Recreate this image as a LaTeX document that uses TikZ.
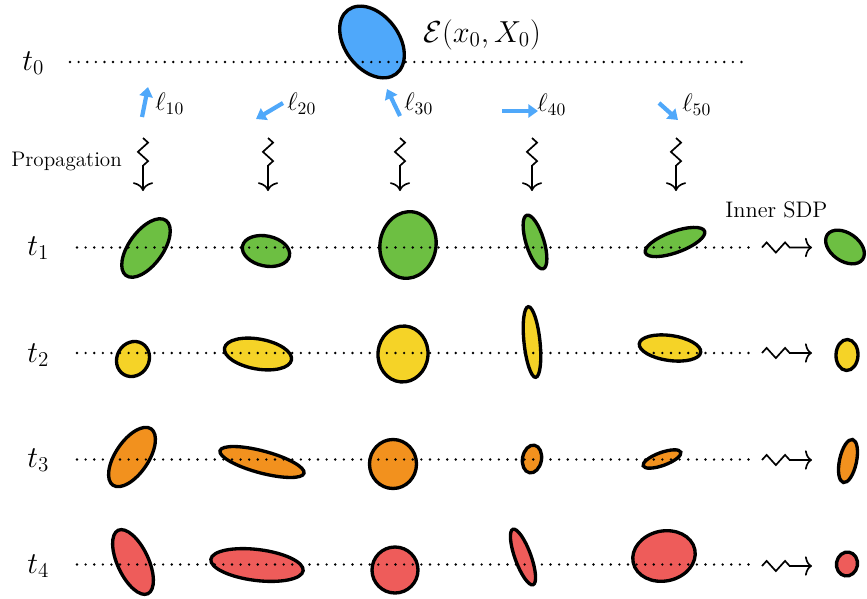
\documentclass[tikz,border=0pt]{standalone}
\usetikzlibrary{arrows.meta,decorations.pathmorphing}
\definecolor{cblue}{HTML}{4FA8FA}
\definecolor{cgreen}{HTML}{6DBF42}
\definecolor{cyellow}{HTML}{F5D327}
\definecolor{corange}{HTML}{F2911E}
\definecolor{cred}{HTML}{EE5C5A}
\newcommand\myellipse[6]{\draw[ellstyle,fill=#1,rotate around={#6:(#2,#3)}] (#2,#3) ellipse [x radius=#4, y radius=#5];}
\begin{document}
\begin{tikzpicture}[x=0.02cm,y=-0.02cm,
  ellstyle/.style={line width=1.9pt,draw=black},
  rowline/.style={line width=1.5pt,line cap=round,dash pattern=on 0pt off 4.9pt},
  larrow/.style={cblue,line width=2.4pt,-{Triangle[length=5.5pt,width=7.5pt]}},
  zzv/.style={line width=0.95pt,-{To[length=5pt,width=11.5pt]},decorate,
    decoration={zigzag,segment length=10.5pt,amplitude=2.9pt,post length=11pt}},
  zzh/.style={line width=0.95pt,-{To[length=4pt,width=11pt]},decorate,
    decoration={zigzag,segment length=10.5pt,amplitude=2.9pt,post length=11pt}},
  tlab/.style={anchor=base west,inner sep=0pt,font=\fontsize{17}{20}\selectfont},
  llab/.style={anchor=base west,inner sep=0pt,font=\fontsize{14}{17}\selectfont},
  txt/.style={anchor=base west,inner sep=0pt}]
\useasboundingbox (0,0) rectangle (867,599);

% t0 ellipse
\myellipse{cblue}{372}{42}{40}{27}{-53}
% row 1
\myellipse{cgreen}{146}{248}{34}{17}{54}
\myellipse{cgreen}{266}{251}{24}{15}{-12}
\myellipse{cgreen}{408}{245}{33.5}{28}{80}
\myellipse{cgreen}{535}{242}{28}{9}{-73}
\myellipse{cgreen}{675}{242}{31.5}{10.5}{20}
\myellipse{cgreen}{845}{247}{21.5}{14}{-35}
% row 2
\myellipse{cyellow}{133}{359}{18}{16}{60}
\myellipse{cyellow}{258}{354}{34}{15}{-10}
\myellipse{cyellow}{403}{354}{28}{25}{85}
\myellipse{cyellow}{532}{342}{35.5}{8}{-84}
\myellipse{cyellow}{670}{348}{31}{12.5}{-8}
\myellipse{cyellow}{847}{355}{15.5}{11}{88}
% row 3
\myellipse{corange}{132}{457}{34}{16.5}{56}
\myellipse{corange}{262}{462}{43.5}{11}{-15}
\myellipse{corange}{393}{464}{24.5}{23.5}{90}
\myellipse{corange}{532}{459}{14}{9.5}{80}
\myellipse{corange}{662}{459}{20}{6.5}{20}
\myellipse{corange}{848}{461}{22}{8.5}{78}
% row 4
\myellipse{cred}{133}{562}{35}{15.5}{-65}
\myellipse{cred}{257}{565}{46.5}{15.5}{-7}
\myellipse{cred}{395}{570}{23}{23}{0}
\myellipse{cred}{523}{557}{29.5}{8}{-70}
\myellipse{cred}{664}{556}{31.5}{25}{12}
\myellipse{cred}{847}{564}{12}{10.5}{80}

% dotted time lines
\coordinate (r0a) at (70,62);    \coordinate (r0b) at (748,62);
\coordinate (r1a) at (77,247.5); \coordinate (r1b) at (753,247.5);
\coordinate (r2a) at (77,353);   \coordinate (r2b) at (753,353);
\coordinate (r3a) at (77,459.5); \coordinate (r3b) at (753,459.5);
\coordinate (r4a) at (77,564.5); \coordinate (r4b) at (753,564.5);
\foreach \r in {0,...,4} \draw[rowline] (r\r a) -- (r\r b);

% labels
\node[tlab] (t0) at (22,70) {$t_0$};
\node[tlab] (t1) at (27,255) {$t_1$};
\node[tlab] (t2) at (27,362) {$t_2$};
\node[tlab] (t3) at (27,467) {$t_3$};
\node[tlab] (t4) at (27,573) {$t_4$};
\node[txt,font=\fontsize{18.5}{22}\selectfont] (E) at (423,42) {$\mathcal{E}(x_0,X_0)$};

% direction arrows
\coordinate (a1s) at (142,117); \coordinate (a1e) at (148,87);
\coordinate (a2s) at (283,103); \coordinate (a2e) at (256,119);
\coordinate (a3s) at (400,116); \coordinate (a3e) at (387,89);
\coordinate (a4s) at (502,111); \coordinate (a4e) at (538,111);
\coordinate (a5s) at (659,103); \coordinate (a5e) at (678,120);
\foreach \i in {1,...,5} \draw[larrow] (a\i s) -- (a\i e);
\node[llab] (l1) at (155,110.5) {$\ell_{10}$};
\node[llab] (l2) at (287,110.5) {$\ell_{20}$};
\node[llab] (l3) at (404,110.5) {$\ell_{30}$};
\node[llab] (l4) at (537,111.5) {$\ell_{40}$};
\node[llab] (l5) at (682,111.5) {$\ell_{50}$};

% propagation
\node[txt,font=\fontsize{12}{14}\selectfont] (prop) at (11,166.5) {Propagation};
\foreach \i/\x in {1/143,2/268,3/400,4/532,5/676}{
  \coordinate (p\i s) at (\x,138);
  \coordinate (p\i e) at (\x,191);
  \draw[zzv] (p\i s) -- (p\i e);
}

% inner SDP
\node[txt,font=\fontsize{12.8}{15}\selectfont] (sdp) at (725,217) {Inner SDP};
\foreach \i/\y in {1/247.5,2/353,3/460,4/566}{
  \coordinate (s\i s) at (762,\y);
  \coordinate (s\i e) at (812,\y);
  \draw[zzh] (s\i s) -- (s\i e);
}
\end{tikzpicture}
\end{document}
